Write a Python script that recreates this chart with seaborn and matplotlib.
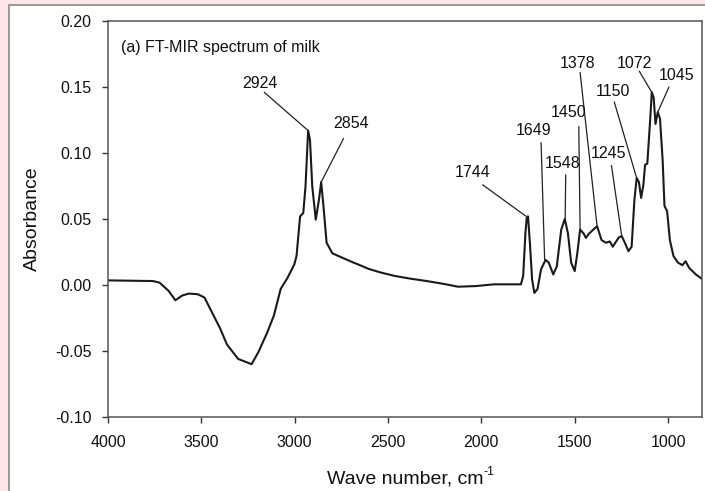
import numpy as np
import pandas as pd
import matplotlib
matplotlib.use("Agg")
import matplotlib.pyplot as plt
from matplotlib.patches import Rectangle
from matplotlib.ticker import FormatStrFormatter
import seaborn as sns

# FT-MIR spectrum of milk
wave_number = [4000, 3760, 3724, 3675, 3639, 3603, 3567, 3519, 3483, 3447, 3399, 3363,
               3303, 3267, 3231, 3195, 3147, 3111, 3075, 3038, 3002, 2990, 2971, 2954,
               2942, 2928, 2918, 2906, 2887, 2870, 2858, 2846, 2829, 2798, 2750, 2702, 2650,
               2606, 2540, 2462, 2380, 2293, 2200, 2125, 2029, 1933, 1788, 1776, 1764, 1757,
               1750, 1740, 1728, 1716, 1699, 1680, 1656, 1639, 1615, 1596, 1572, 1553, 1536,
               1519, 1500, 1486, 1471, 1452, 1440, 1423, 1392, 1380, 1356, 1332, 1312, 1296,
               1264, 1248, 1231, 1212, 1195, 1180, 1168, 1156, 1144, 1132, 1123, 1111, 1097,
               1087, 1077, 1067, 1055, 1043, 1029, 1019, 1005, 990, 971, 947, 923,
               906, 887, 851, 815]
absorbance = [0.0035, 0.003, 0.0018, -0.0045, -0.0116, -0.008, -0.0065, -0.007, -0.0095,
              -0.0196, -0.033, -0.045, -0.056, -0.058, -0.060, -0.051, -0.036, -0.023,
              -0.003, 0.0055, 0.0156, 0.022, 0.052, 0.0545, 0.0746, 0.117, 0.110, 0.075,
              0.0495, 0.0645, 0.078, 0.060, 0.032, 0.024, 0.021, 0.018, 0.015, 0.0123,
              0.0095, 0.0068, 0.0048, 0.003, 0.0008, -0.0013, -0.0008, 0.0005, 0.0005,
              0.0068, 0.039, 0.0508, 0.052, 0.032, 0.004, -0.006, -0.003, 0.012, 0.019,
              0.017, 0.008, 0.014, 0.042, 0.050, 0.039, 0.017, 0.0105, 0.024, 0.042, 0.039,
              0.0357, 0.039, 0.043, 0.0445, 0.034, 0.032, 0.033, 0.029, 0.036, 0.037, 0.032,
              0.0256, 0.029, 0.0646, 0.081, 0.078, 0.066, 0.076, 0.091, 0.092, 0.122,
              0.146, 0.142, 0.122, 0.131, 0.126, 0.095, 0.060, 0.056, 0.034, 0.022, 0.017,
              0.015, 0.018, 0.013, 0.008, 0.0043]

# peak labels: text position, line start, line end
peak_labels = ["2924", "2854", "1744", "1649", "1548", "1450", "1378", "1245", "1150", "1072", "1045"]
label_xy = [(3188, 0.1525), (2697, 0.1224), (2048, 0.085), (1721, 0.1168), (1562, 0.0922),
            (1534, 0.1304), (1486, 0.1676), (1320, 0.100), (1293, 0.1467), (1178, 0.1676),
            (952, 0.1588)]
line_start = [(3163, 0.146), (2738, 0.111), (1993, 0.0759), (1680, 0.1078), (1548, 0.0834),
              (1478, 0.120), (1471, 0.161), (1303, 0.0905), (1288, 0.1387), (1154, 0.162),
              (995, 0.150)]
line_end = [(2928, 0.117), (2858, 0.078), (1760, 0.052), (1661, 0.019), (1551, 0.050),
            (1471, 0.042), (1380, 0.0445), (1248, 0.037), (1168, 0.081), (1087, 0.146),
            (1055, 0.131)]

df = pd.DataFrame({"wn": wave_number, "abs": absorbance})

sns.set_style("ticks")
plt.rcParams["font.family"] = ["Liberation Sans", "DejaVu Sans"]
plt.rcParams["axes.unicode_minus"] = False

fig = plt.figure(figsize=(7.05, 4.91), dpi=100)
fig.patch.set_facecolor("#fde6e9")
# white panel behind the plot
fig.patches.append(Rectangle((9 / 705, -0.05), 1.0, 0.05 + 1 - 5 / 491, transform=fig.transFigure,
                             facecolor="white", edgecolor="#8a8a8a", linewidth=1.2, zorder=-10))
ax = fig.add_axes([108 / 705, 1 - 417 / 491, (702 - 108) / 705, (417 - 21) / 491])
ax.set_zorder(5)
ax.set_facecolor("none")

sns.lineplot(data=df, x="wn", y="abs", sort=False, estimator=None, color="#1a1a1a",
             linewidth=1.5, ax=ax)

for lab, txy, s, e in zip(peak_labels, label_xy, line_start, line_end):
    ax.plot([s[0], e[0]], [s[1], e[1]], color="#222222", linewidth=0.9)
    ax.text(txy[0], txy[1], lab, ha="center", va="center", fontsize=11.5, color="#111111")

ax.text(3932, 0.18, "(a) FT-MIR spectrum of milk", ha="left", va="center", fontsize=11.5,
        color="#111111")

ax.set_xlim(4000, 818)
ax.set_ylim(-0.10, 0.20)
ax.set_xticks([4000, 3500, 3000, 2500, 2000, 1500, 1000])
ax.set_yticks([-0.10, -0.05, 0.00, 0.05, 0.10, 0.15, 0.20])
ax.yaxis.set_major_formatter(FormatStrFormatter("%.2f"))
ax.tick_params(axis="both", direction="out", length=4, width=1, colors="#333333",
               labelcolor="#111111", labelsize=11.5)
ax.tick_params(axis="x", pad=9)
ax.tick_params(axis="y", pad=8)
for sp in ax.spines.values():
    sp.set_visible(True)
    sp.set_color("#555555")
    sp.set_linewidth(1.1)

ax.set_xlabel("Wave number, cm", fontsize=14, labelpad=15, color="#111111")
ax.set_ylabel("Absorbance", fontsize=14, labelpad=10, color="#111111")
# superscript -1 written with a plain hyphen, as in the reference
ax.annotate("-1", xy=(1.0, 0.95), xycoords=ax.xaxis.label, ha="left", va="center",
            fontsize=9, color="#111111")

fig.savefig("out.png", dpi=100, facecolor=fig.get_facecolor())
